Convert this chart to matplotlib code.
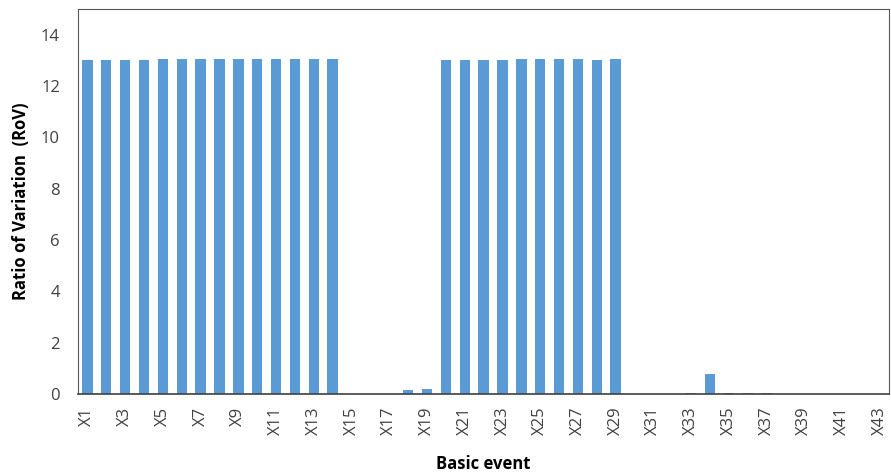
import numpy as np
import matplotlib
matplotlib.use("Agg")
import matplotlib.pyplot as plt

events = ["X%d" % i for i in range(1, 44)]
rov = [13.0, 13.0, 13.0, 13.0, 13.05, 13.05, 13.05, 13.05, 13.05, 13.05,
       13.05, 13.05, 13.05, 13.05, 0.0, 0.0, 0.0, 0.15, 0.2, 13.0,
       13.0, 13.0, 13.0, 13.05, 13.05, 13.05, 13.05, 13.0, 13.05, 0.0,
       0.0, 0.0, 0.03, 0.78, 0.03, 0.03, 0.03, 0.0, 0.0, 0.0,
       0.0, 0.0, 0.0]
tick_labels = [e if i % 2 == 0 else "" for i, e in enumerate(events)]

plt.rcParams['font.family'] = ['Open Sans', 'DejaVu Sans']

fig = plt.figure(figsize=(8.91, 4.75), dpi=100)
ax = fig.add_axes([0.0875, 0.1705, 0.9105, 0.8105])

x = np.arange(len(events))
ax.bar(x, rov, width=0.55, color='#5B9BD5')

ax.set_xlim(-0.5, len(events) - 0.5)
ax.set_ylim(0, 15)
ax.set_yticks(range(0, 15, 2))
ax.set_xticks(x)
ax.set_xticklabels(tick_labels, rotation=90, fontsize=12, color='#404040')
ax.tick_params(axis='y', labelsize=12, labelcolor='#404040', length=0, pad=13)
ax.tick_params(axis='x', length=0, pad=9)

for s in ax.spines.values():
    s.set_color('#595959')
    s.set_linewidth(0.8)
ax.spines['bottom'].set_color('#404040')
ax.spines['bottom'].set_linewidth(1.2)

ax.set_ylabel('Ratio of Variation  (RoV)', fontsize=12, fontweight='bold', labelpad=8)
ax.set_xlabel('Basic event', fontsize=12, fontweight='bold', labelpad=14)

fig.savefig('out.png', dpi=100)
